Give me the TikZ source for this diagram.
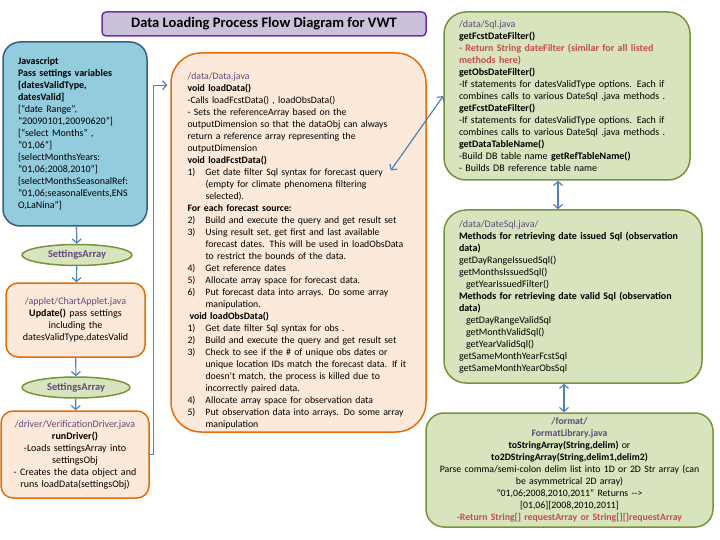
\documentclass[tikz,border=0pt]{standalone}
\usepackage{fontspec}
\setmainfont{Carlito}
\usetikzlibrary{arrows.meta,calc,shapes.geometric}

\definecolor{purp}{RGB}{96,74,123}
\definecolor{txtred}{RGB}{192,80,77}
\definecolor{orgline}{RGB}{228,108,10}
\definecolor{orgfill}{RGB}{253,233,217}
\definecolor{grnline}{RGB}{119,147,60}
\definecolor{grnfill}{RGB}{215,228,189}
\definecolor{jsline}{RGB}{56,93,138}
\definecolor{jsfill}{RGB}{147,205,221}
\definecolor{titline}{RGB}{112,48,160}
\definecolor{titfill}{RGB}{204,193,218}
\definecolor{arrblue}{RGB}{79,129,189}

\newcommand{\numitem}[1]{\makebox[18pt][l]{#1}}
\newcommand{\indnt}{\hspace*{18pt}}

\begin{document}
\begin{tikzpicture}[x=1pt, y=-1pt, thick,
	box/.style={draw, line width=1.5pt, inner ysep=0pt, font=\fontsize{10}{12}\selectfont},
	blu/.style={box, fill=jsfill, draw=jsline, rounded corners=17pt},
	org/.style={box, fill=orgfill, draw=orgline},
	grn/.style={box, fill=grnfill, draw=grnline},
	oval/.style={ellipse, draw=grnline, fill=grnfill, line width=1.5pt, inner sep=0pt, minimum height=21pt, text=purp, font=\fontsize{10.5}{12}\selectfont\bfseries},
	arr/.style={draw=arrblue, line width=1.2pt, -{Straight Barb[length=4pt,width=9pt]}},
	arr2/.style={arr, {Straight Barb[length=4pt,width=9pt]}-{Straight Barb[length=4pt,width=9pt]}}]
	\useasboundingbox (0,0) rectangle (720,540);

	\node[draw=titline, fill=titfill, line width=1.5pt, rounded corners=4pt, minimum width=324pt, minimum height=24pt, font=\fontsize{14.5}{16}\selectfont\bfseries] (t) at (264,24) {Data Loading Process Flow Diagram for VWT};

	\node[blu, text width=114pt, inner xsep=15pt, minimum height=184pt, align=left] (js) at (75,134) {\textbf{Javascript}\\
		\textbf{Pass settings variables}\\
		\textbf{[datesValidType,}\\
		\textbf{datesValid]}\\
		{}[“date Range”,\\
		“20090101,20090620”]\\
		{}[“select Months” ,\\
		“01,06”]\\
		{}[selectMonthsYears:\\
		“01,06;2008,2010”]\\
		{}[selectMonthsSeasonalRef:\\
		“01,06;seasonalEvents,ENS\\
		O,LaNina”]};
	\node[oval, minimum width=110pt] (s1) at (77,255) {SettingsArray};
	\node[org, rounded corners=12pt, text width=129pt, inner xsep=5pt, minimum height=74pt, align=center] (app) at (75.5,320) {\textcolor{purp}{/applet/ChartApplet.java}\\
		\textbf{Update()} pass settings\\
		including the\\
		datesValidType,datesValid};
	\node[oval, minimum width=108pt] (s2) at (76,387.5) {SettingsArray};
	\node[org, rounded corners=12pt, text width=140pt, inner xsep=4pt, minimum height=87pt, align=center] (drv) at (75,454.5) {\textcolor{purp}{/driver/VerificationDriver.java}\\
		\textbf{runDriver()}\\
		-Loads settingsArray into\\
		settingsObj\\
		- Creates the data object and\\
		runs loadData(settingsObj)};

	\node[org, rounded corners=30pt, text width=222pt, inner xsep=16.5pt, minimum height=379pt, align=left, font=\fontsize{9.8}{12}\selectfont] (data) at (298.5,242.5) {\rule{0pt}{23pt}\textcolor{purp}{/data/Data.java}\\
		\textbf{void loadData()}\\
		-Calls loadFcstData() , loadObsData()\\
		- Sets the referenceArray based on the\\
		outputDimension so that the dataObj can always\\
		return a reference array representing the\\
		outputDimension\\
		\textbf{void loadFcstData()}\\
		\numitem{1)}Get date filter Sql syntax for forecast query\\
		\indnt(empty for climate phenomena filtering\\
		\indnt selected).\\
		\textbf{For each forecast source:}\\
		\numitem{2)}Build and execute the query and get result set\\
		\numitem{3)}Using result set, get first and last available\\
		\indnt forecast dates. This will be used in loadObsData\\
		\indnt to restrict the bounds of the data.\\
		\numitem{4)}Get reference dates\\
		\numitem{5)}Allocate array space for forecast data.\\
		\numitem{6)}Put forecast data into arrays. Do some array\\
		\indnt manipulation.\\
		\hspace*{2pt}\textbf{void loadObsData()}\\
		\numitem{1)}Get date filter Sql syntax for obs .\\
		\numitem{2)}Build and execute the query and get result set\\
		\numitem{3)}Check to see if the \# of unique obs dates or\\
		\indnt unique location IDs match the forecast data. If it\\
		\indnt doesn’t match, the process is killed due to\\
		\indnt incorrectly paired data.\\
		\numitem{4)}Allocate array space for observation data\\
		\numitem{5)}Put observation data into arrays. Do some array\\
		\indnt manipulation};

	\node[grn, rounded corners=22pt, text width=216pt, inner xsep=15pt, minimum height=168pt, align=left] (sql) at (567,96) {\textcolor{purp}{/data/Sql.java}\\
		\textbf{getFcstDateFilter()}\\
		\textcolor{txtred}{\textbf{- Return String dateFilter (similar for all listed}}\\
		\textcolor{txtred}{\textbf{methods here)}}\\
		\textbf{getObsDateFilter()}\\
		-If statements for datesValidType\ options. Each if\\
		combines\ calls to various DateSql .java methods .\\
		\textbf{getFcstDateFilter()}\\
		-If statements for datesValidType\ options. Each if\\
		combines\ calls to various DateSql .java methods .\\
		\textbf{getDataTableName()}\\
		-Build DB table name \textbf{getRefTableName()}\\
		- Builds DB reference table name};
	\node[grn, rounded corners=22pt, text width=228pt, inner xsep=15pt, minimum height=173pt, align=left] (dsql) at (573,296.5) {\textcolor{purp}{/data/DateSql.java/}\\
		\textbf{Methods for retrieving date issued Sql (observation}\\
		\textbf{data)}\\
		getDayRangeIssuedSql()\\
		getMonthsIssuedSql()\\
		\hspace*{7pt}getYearIssuedFilter()\\
		\textbf{Methods for retrieving date valid Sql (observation}\\
		\textbf{data)}\\
		\hspace*{7pt}getDayRangeValidSql\\
		\hspace*{7pt}getMonthValidSql()\\
		\hspace*{7pt}getYearValidSql()\\
		getSameMonthYearFcstSql\\
		getSameMonthYearObsSql};
	\node[grn, rounded corners=18pt, text width=275pt, inner xsep=6pt, minimum height=114pt, align=center, font=\fontsize{9.8}{12}\selectfont] (fmt) at (569.5,470) {\textcolor{purp}{\textbf{/format/}}\\
		\textcolor{purp}{\textbf{FormatLibrary.java}}\\
		\textbf{toStringArray(String,delim)} or\\
		\textbf{to2DStringArray(String,delim1,delim2)}\\
		Parse comma/semi-colon delim list into 1D or 2D Str array (can\\
		be asymmetrical 2D array)\\
		“01,06;2008,2010,2011” Returns -{}->\\
		{}[01,06][2008,2010,2011]\\
		\textcolor{txtred}{\textbf{-Return String[] requestArray or String[][]requestArray}}};

	\draw[arr] (js) to (s1);
	\draw[arr] (s1) to (app);
	\draw[arr] (app) to (s2);
	\draw[arr] (s2) to (drv);
	\draw[arr, shorten >=3pt] (drv.east) -- ++(4,0) |- ($(data.north west)+(0,33)$);
	\draw[arr2] ($(data.east)+(-36,-72)$) to (sql.west);
	\draw[arr2] ([xshift=-9pt]sql.south) to ([xshift=-9pt]sql.south |- dsql.north);
	\draw[arr2] ([xshift=-9pt]dsql.south) to ([xshift=-9pt]dsql.south |- fmt.north);
\end{tikzpicture}
\end{document}
